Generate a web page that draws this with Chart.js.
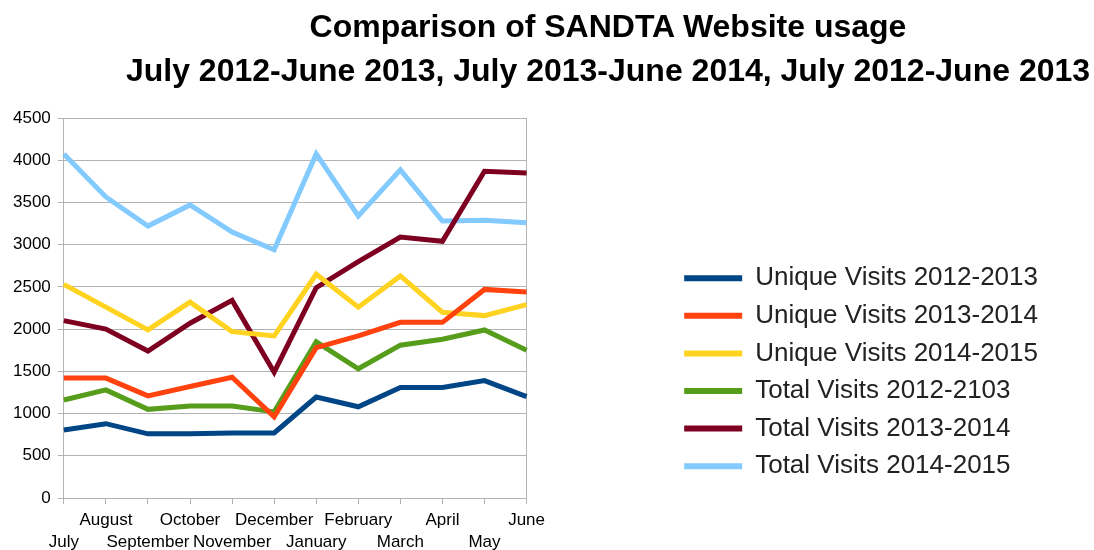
<!DOCTYPE html>
<html>
<head>
<meta charset="utf-8">
<script src="https://cdn.jsdelivr.net/npm/chart.js@4"></script>
<style>
  body { margin: 0; background: #fff; }
  #wrap { position: relative; width: 1094px; height: 550px; }
  #title {
    position: absolute; left: 122px; right: 0; top: 4px;
    text-align: center; font: bold 32px "Liberation Sans", Arial, sans-serif;
    line-height: 44px; color: #000;
  }
  canvas { position: absolute; left: 0; top: 0; }
</style>
</head>
<body>
<div id="wrap">
  <canvas id="chart" width="1094" height="550"></canvas>
  <div id="title">Comparison of SANDTA Website usage<br>July 2012-June 2013, July 2013-June 2014, July 2012-June 2013</div>
</div>
<script>
const months = ["July", "August", "September", "October", "November", "December",
                "January", "February", "March", "April", "May", "June"];

const uniqueVisits2012 = [805, 880, 760, 760, 770, 770, 1195, 1080, 1310, 1310, 1390, 1200];
const uniqueVisits2013 = [1420, 1420, 1210, 1320, 1430, 960, 1780, 1920, 2080, 2080, 2470, 2440];
const uniqueVisits2014 = [2530, 2260, 1990, 2320, 1970, 1920, 2650, 2260, 2630, 2200, 2160, 2290];
const totalVisits2012 = [1160, 1280, 1050, 1090, 1090, 1020, 1850, 1530, 1810, 1880, 1990, 1750];
const totalVisits2013 = [2100, 2000, 1740, 2070, 2340, 1490, 2490, 2800, 3090, 3040, 3870, 3850];
const totalVisits2014 = [4075, 3565, 3220, 3470, 3150, 2940, 4075, 3340, 3885, 3280, 3290, 3260];

const yTicks = [0, 500, 1000, 1500, 2000, 2500, 3000, 3500, 4000, 4500];

// staggered month labels: July on the lower row, August on the upper row, ...
const tickLabels = months.map((m, i) => i % 2 === 0 ? ["", m] : [m, ""]);

function series(label, data, color) {
    return {
        label: label,
        data: data,
        borderColor: color,
        backgroundColor: color,
        borderWidth: 5,
        pointRadius: 0,
        tension: 0,
        fill: false
    };
}

const grey = "#b3b3b3";
const font = '"Liberation Sans", Arial, sans-serif';

// the layout caps side boxes at a quarter of the width; let the legend be as wide as its text
const wideLegend = {
    id: "wideLegend",
    beforeLayout(chart) {
        const lg = chart.legend;
        if (lg && !lg._wide) {
            const upd = lg.update.bind(lg);
            lg.update = (w, h, m) => upd(Math.max(w, 460), h, m);
            lg._wide = true;
        }
    }
};

new Chart(document.getElementById("chart"), {
    type: "line",
    data: {
        labels: tickLabels,
        datasets: [
            series("Unique Visits 2012-2013", uniqueVisits2012, "#004586"),
            series("Unique Visits 2013-2014", uniqueVisits2013, "#ff420e"),
            series("Unique Visits 2014-2015", uniqueVisits2014, "#ffd320"),
            series("Total Visits 2012-2103", totalVisits2012, "#579d1c"),
            series("Total Visits 2013-2014", totalVisits2013, "#7e0021"),
            series("Total Visits 2014-2015", totalVisits2014, "#83caff")
        ]
    },
    plugins: [wideLegend],
    options: {
        responsive: false,
        animation: false,
        layout: { padding: { top: 118, left: 6, right: 46, bottom: 0 } },
        scales: {
            x: {
                offset: false,
                grid: { display: true, drawOnChartArea: false, color: grey, tickLength: 6 },
                border: { color: grey },
                ticks: {
                    autoSkip: false, maxRotation: 0, minRotation: 0, padding: 5,
                    color: "#000", font: { family: font, size: 17, lineHeight: 1.294 }
                },
                afterFit: s => { s.height = 52; }
            },
            y: {
                min: 0, max: 4500,
                afterBuildTicks: s => { s.ticks = yTicks.map(v => ({ value: v })); },
                grid: { color: grey, tickLength: 6 },
                border: { color: grey },
                ticks: {
                    padding: 7, color: "#000", font: { family: font, size: 17 },
                    callback: v => String(v)
                }
            },
            yRight: {
                position: "right",
                display: true,
                grid: { display: false },
                border: { color: grey },
                ticks: { display: false },
                afterFit: s => { s.width = 146; }
            }
        },
        plugins: {
            title: { display: false },
            tooltip: { enabled: false },
            legend: {
                position: "right",
                align: "center",
                title: { display: true, text: "", padding: { top: 62, bottom: 0 } },
                labels: {
                    boxWidth: 58,
                    boxHeight: 6,
                    padding: 11.6,
                    color: "#222",
                    font: { family: font, size: 26 },
                    generateLabels: chart => Chart.defaults.plugins.legend.labels.generateLabels(chart)
                        .map(item => Object.assign(item, { lineWidth: 0 }))
                }
            }
        }
    }
});
</script>
</body>
</html>
